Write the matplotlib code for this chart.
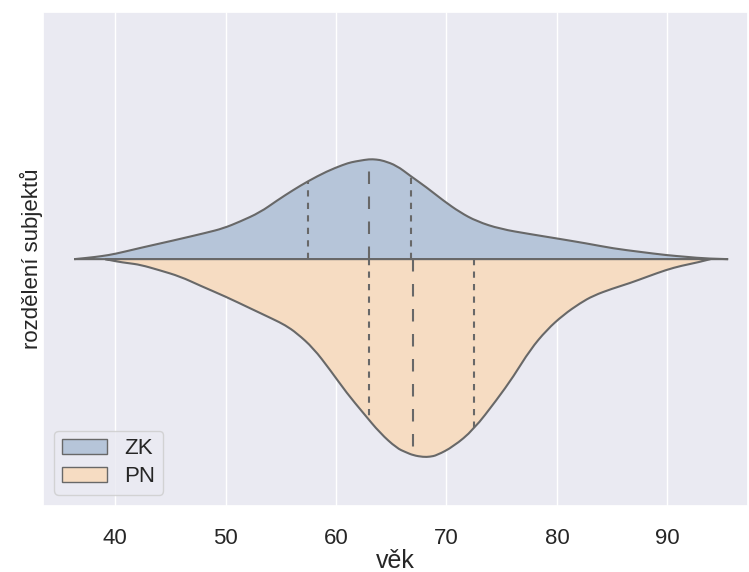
import numpy as np
import matplotlib.pyplot as plt
import seaborn as sns
from matplotlib.patches import Patch, PathPatch
from matplotlib.path import Path

# obrysy houslového grafu (věk, poloviční šířka)
zk_age = [36.3, 37.5, 38.8, 40.0, 42.3, 45.3, 48.3, 49.8, 51.3, 53.13, 54.64, 56.14,
          57.44, 59.16, 60.67, 61.4, 62.18, 63.0, 63.65, 64.29, 65.5, 66.7, 68.2,
          69.72, 71.23, 72.74, 74.85, 77.6, 80.0, 82.7, 85.1, 87.5, 89.9, 91.7,
          93.6, 95.5]
zk_width = [0, 0.0026, 0.0061, 0.0105, 0.0229, 0.0379, 0.0537, 0.0624, 0.076, 0.0948,
            0.1185, 0.1402, 0.1576, 0.1778, 0.1914, 0.1965, 0.1995, 0.2025, 0.2019,
            0.1995, 0.1894, 0.1691, 0.1454, 0.1185, 0.0948, 0.0766, 0.0612, 0.0506,
            0.0419, 0.0318, 0.0217, 0.0148, 0.0081, 0.0047, 0.001, 0]

pn_age = [39.1, 40.15, 41.2, 42.3, 44.0, 45.9, 47.7, 50.0, 52.2, 54.3, 55.4, 56.45,
          57.95, 59.46, 60.98, 62.48, 63.99, 65.5, 66.3, 67.0, 67.9, 68.5, 69.12,
          70.63, 72.44, 74.55, 76.06, 77.57, 79.08, 80.59, 82.1, 83.3, 85.0, 86.6,
          88.2, 89.9, 91.3, 92.7, 93.9]
pn_width = [0, 0.0049, 0.0081, 0.0115, 0.0223, 0.0352, 0.0537, 0.0758, 0.0993, 0.1215,
            0.1337, 0.1499, 0.1803, 0.2242, 0.2714, 0.3119, 0.3524, 0.3828, 0.3909,
            0.3974, 0.4008, 0.4003, 0.3974, 0.3796, 0.3458, 0.285, 0.2378, 0.1837,
            0.1432, 0.1128, 0.0891, 0.0739, 0.0598, 0.0486, 0.0354, 0.0217, 0.0132,
            0.0069, 0]

# kvartily (Q1, medián, Q3)
zk_quart = [57.45, 63.0, 66.75]
pn_quart = [63.0, 66.95, 72.45]

groups = ['ZK', 'PN']
colors = ['#b6c5d9', '#f6dcc2']
gray = '#686868'

sns.set_theme(style='darkgrid')
plt.rcParams['font.family'] = ['Liberation Sans', 'DejaVu Sans']

fig = plt.figure(figsize=(7.49, 5.72), dpi=100)
ax = fig.add_axes([0.0578, 0.1154, 0.9409, 0.8631])


def half_violin(age, width, sign, color):
    # hladký obrys: kvadratické Bézierovy úseky přes odečtené body
    pts = np.column_stack([age, sign * np.array(width)])
    verts = [pts[0]]
    codes = [Path.MOVETO]
    for i in range(1, len(pts) - 1):
        mid = (pts[i] + pts[i + 1]) / 2 if i < len(pts) - 2 else pts[i + 1]
        verts += [pts[i], mid]
        codes += [Path.CURVE3, Path.CURVE3]
    verts += [pts[0], pts[0]]
    codes += [Path.LINETO, Path.CLOSEPOLY]
    ax.add_patch(PathPatch(Path(verts, codes), facecolor=color, edgecolor=gray,
                           lw=1.5, zorder=2))


half_violin(zk_age, zk_width, 1, colors[0])
half_violin(pn_age, pn_width, -1, colors[1])

for quart, age, width, sign in [(zk_quart, zk_age, zk_width, 1), (pn_quart, pn_age, pn_width, -1)]:
    for i, q in enumerate(quart):
        h = np.interp(q, age, width) * sign
        dashes = (6, 6) if i == 1 else (3, 3)
        ax.plot([q, q], [0, h], color=gray, lw=1.5, dashes=dashes, zorder=3)

ax.set_xlim(33.5, 97.3)
ax.set_ylim(-0.5, 0.5)
ax.set_xticks([40, 50, 60, 70, 80, 90])
ax.set_yticks([])
ax.tick_params(axis='x', length=0, pad=16, labelsize=16)
ax.set_xlabel('věk', fontsize=18, labelpad=0)
ax.set_ylabel('rozdělení subjektů', fontsize=16, labelpad=0)

handles = [Patch(facecolor=c, edgecolor=gray, lw=1) for c in colors]
ax.legend(handles, groups, loc='lower left', fontsize=16, labelspacing=0.3, borderpad=0.35)

plt.savefig('out.png', dpi=100)
